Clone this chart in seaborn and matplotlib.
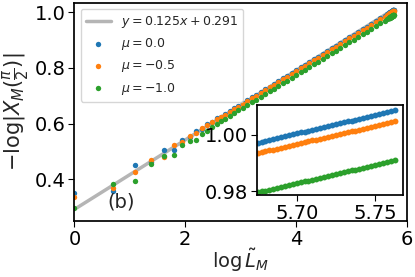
import matplotlib
matplotlib.use("Agg")
import matplotlib.pyplot as plt
import numpy as np
import pandas as pd
import seaborn as sns

# ---------------- data ----------------
mu_labels = [r"$\mu = 0.0$", r"$\mu = -0.5$", r"$\mu = -1.0$"]
colors = ["#1f77b4", "#ff7f0e", "#2ca02c"]

fit_slope = 0.125
fit_intercept = 0.291
fit_label = r"$y = 0.125x + 0.291$"

# small sizes (x = log L_M)
x_small = [0.000, 0.693, 1.099, 1.386, 1.609, 1.792, 1.946, 2.079, 2.197,
           2.303, 2.398, 2.485, 2.565]
mu0_small = [0.349, 0.356, 0.449, 0.463, 0.504, 0.506, 0.540, 0.551, 0.572,
             0.582, 0.598, 0.606, 0.620]
mu05_small = [0.335, 0.366, 0.425, 0.468, 0.480, 0.521, 0.533, 0.556, 0.565,
              0.584, 0.594, 0.607, 0.617]
mu10_small = [0.295, 0.383, 0.392, 0.453, 0.482, 0.487, 0.521, 0.536, 0.539,
              0.561, 0.572, 0.587, 0.597]

# dense middle part
x_mid = [2.64, 2.72, 2.80, 2.88, 2.96, 3.04, 3.12, 3.20, 3.28, 3.36,
         3.44, 3.52, 3.60, 3.68, 3.76, 3.84, 3.92, 4.00, 4.08, 4.16,
         4.24, 4.32, 4.40, 4.48, 4.56, 4.64, 4.72, 4.80, 4.88, 4.96,
         5.04, 5.12, 5.20, 5.28, 5.36, 5.44, 5.52, 5.60, 5.64]
mu0_mid = [0.6250, 0.6348, 0.6446, 0.6544, 0.6643, 0.6741, 0.6839, 0.6937, 0.7035, 0.7133,
           0.7232, 0.7330, 0.7428, 0.7526, 0.7624, 0.7722, 0.7821, 0.7919, 0.8017, 0.8115,
           0.8213, 0.8311, 0.8410, 0.8508, 0.8606, 0.8704, 0.8802, 0.8900, 0.8998, 0.9097,
           0.9195, 0.9293, 0.9391, 0.9489, 0.9587, 0.9686, 0.9784, 0.9882, 0.9931]
mu05_mid = [0.6220, 0.6318, 0.6416, 0.6514, 0.6612, 0.6710, 0.6808, 0.6906, 0.7004, 0.7102,
            0.7200, 0.7298, 0.7396, 0.7494, 0.7592, 0.7690, 0.7788, 0.7886, 0.7984, 0.8082,
            0.8180, 0.8278, 0.8376, 0.8474, 0.8572, 0.8670, 0.8768, 0.8866, 0.8964, 0.9062,
            0.9160, 0.9258, 0.9356, 0.9454, 0.9552, 0.9650, 0.9748, 0.9846, 0.9895]
mu10_mid = [0.6080, 0.6178, 0.6276, 0.6374, 0.6471, 0.6569, 0.6667, 0.6765, 0.6863, 0.6961,
            0.7058, 0.7156, 0.7254, 0.7352, 0.7450, 0.7548, 0.7645, 0.7743, 0.7841, 0.7939,
            0.8037, 0.8135, 0.8232, 0.8330, 0.8428, 0.8526, 0.8624, 0.8722, 0.8820, 0.8917,
            0.9015, 0.9113, 0.9211, 0.9309, 0.9407, 0.9504, 0.9602, 0.9700, 0.9749]

# tail (the part shown in the inset)
x_tail = [5.6750, 5.6775, 5.6800, 5.6825, 5.6850, 5.6875, 5.6900, 5.6925, 5.6950, 5.6975,
          5.7000, 5.7025, 5.7050, 5.7075, 5.7100, 5.7125, 5.7150, 5.7175, 5.7200, 5.7225,
          5.7250, 5.7275, 5.7300, 5.7325, 5.7350, 5.7375, 5.7400, 5.7425, 5.7450, 5.7475,
          5.7500, 5.7525, 5.7550, 5.7575, 5.7600, 5.7625]
mu0_tail = [0.99730, 0.99763, 0.99796, 0.99828, 0.99861, 0.99894, 0.99927, 0.99959, 0.99992, 1.00025,
            1.00058, 1.00090, 1.00123, 1.00156, 1.00189, 1.00221, 1.00254, 1.00287, 1.00320, 1.00352,
            1.00385, 1.00418, 1.00451, 1.00483, 1.00516, 1.00549, 1.00582, 1.00614, 1.00647, 1.00680,
            1.00713, 1.00745, 1.00778, 1.00811, 1.00844, 1.00876]
mu05_tail = [0.99350, 0.99382, 0.99415, 0.99447, 0.99480, 0.99512, 0.99544, 0.99577, 0.99609, 0.99642,
             0.99674, 0.99706, 0.99739, 0.99771, 0.99804, 0.99836, 0.99868, 0.99901, 0.99933, 0.99966,
             0.99998, 1.00030, 1.00063, 1.00095, 1.00128, 1.00160, 1.00192, 1.00225, 1.00257, 1.00290,
             1.00322, 1.00354, 1.00387, 1.00419, 1.00452, 1.00484]
mu10_tail = [0.97950, 0.97983, 0.98015, 0.98048, 0.98081, 0.98113, 0.98146, 0.98179, 0.98211, 0.98244,
             0.98277, 0.98309, 0.98342, 0.98374, 0.98407, 0.98440, 0.98472, 0.98505, 0.98538, 0.98570,
             0.98603, 0.98636, 0.98668, 0.98701, 0.98734, 0.98766, 0.98799, 0.98831, 0.98864, 0.98897,
             0.98929, 0.98962, 0.98995, 0.99027, 0.99060, 0.99093]

x_all = x_small + x_mid + x_tail
series = {
    mu_labels[0]: mu0_small + mu0_mid + mu0_tail,
    mu_labels[1]: mu05_small + mu05_mid + mu05_tail,
    mu_labels[2]: mu10_small + mu10_mid + mu10_tail,
}
df = pd.concat(
    [pd.DataFrame({"x": x_all, "y": v, "mu": k}) for k, v in series.items()],
    ignore_index=True,
)
fit_x = [min(x_all), max(x_all)]
fit_df = pd.DataFrame({"x": fit_x,
                       "y": [fit_slope * v + fit_intercept for v in fit_x]})

# ---------------- style ----------------
sns.set_theme(style="ticks")
plt.rcParams["font.family"] = ["DejaVu Sans"]
plt.rcParams["mathtext.fontset"] = "dejavusans"
plt.rcParams["axes.edgecolor"] = "black"
plt.rcParams["xtick.color"] = "black"
plt.rcParams["ytick.color"] = "black"

fig = plt.figure(figsize=(4.15, 2.77), dpi=100)
ax = fig.add_axes([0.1795, 0.2032, 0.8010, 0.7871])

sns.lineplot(data=fit_df, x="x", y="y", color="#b5b5b5", lw=2.5,
             label=fit_label, ax=ax, zorder=1)
for lab, col in zip(mu_labels, colors):
    sub = df[df["mu"] == lab]
    sns.scatterplot(data=sub, x="x", y="y", color=col, s=15, linewidth=0,
                    label=lab, ax=ax, legend=False, zorder=2)

ax.set_xlim(0, 6.0)
ax.set_ylim(0.25, 1.035)
ax.set_xticks([0, 2, 4, 6])
ax.set_yticks([0.4, 0.6, 0.8, 1.0])
ax.tick_params(labelsize=14, length=4, width=0.8, pad=2.5)
ax.set_xlabel(r"$\log\tilde{L}_M$", fontsize=14, labelpad=-1)
ax.set_ylabel(r"$-\log|X_M(\frac{\pi}{2})|$", fontsize=15, labelpad=2)
ax.text(0.6, 0.316, "(b)", fontsize=14, va="center", ha="left")

handles, labels = ax.get_legend_handles_labels()
ax.legend(handles, labels, loc="upper left", fontsize=9, frameon=True)

# ---------------- inset ----------------
axin = fig.add_axes([0.620, 0.2978, 0.3504, 0.3231])
for lab, col in zip(mu_labels, colors):
    sub = df[df["mu"] == lab]
    sns.scatterplot(data=sub, x="x", y="y", color=col, s=18, linewidth=0,
                    ax=axin, legend=False)
axin.set_xlim(5.6748, 5.7677)
axin.set_ylim(0.97875, 1.0107)
axin.set_xticks([5.70, 5.75])
axin.set_yticks([0.98, 1.00])
axin.set_xticklabels(["5.70", "5.75"])
axin.set_yticklabels(["0.98", "1.00"])
axin.tick_params(labelsize=14, length=4, width=0.8, pad=2.5)
axin.set_xlabel("")
axin.set_ylabel("")

fig.savefig("out.png", dpi=100)
